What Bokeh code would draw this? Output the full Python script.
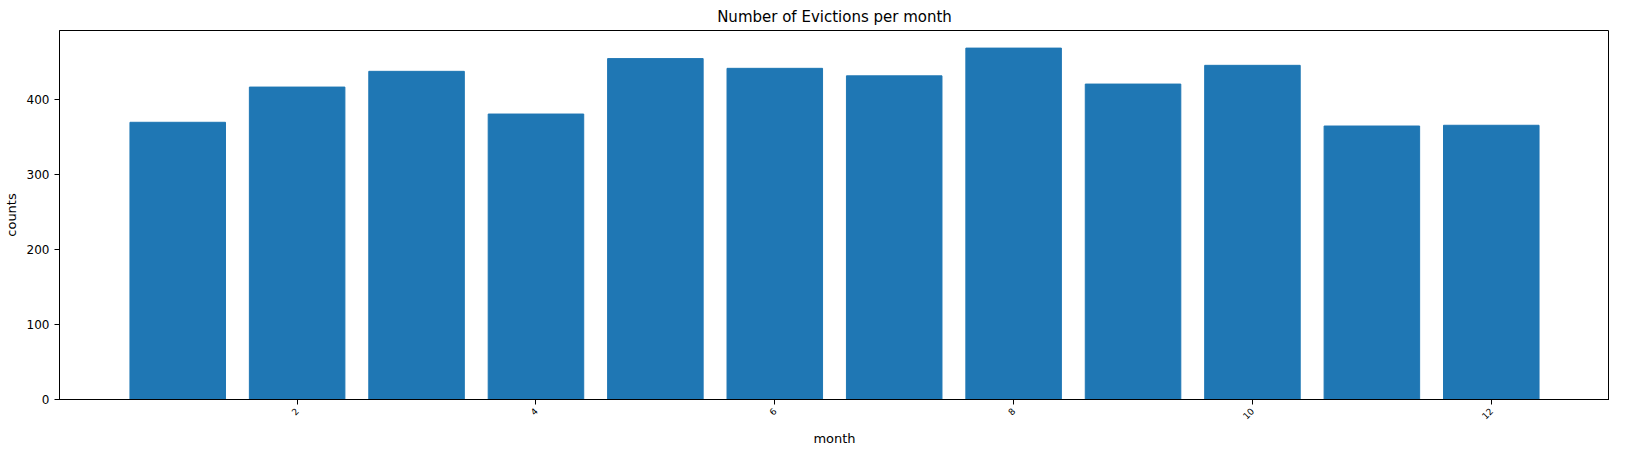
import math
from bokeh.plotting import figure
from bokeh.models import FixedTicker, Range1d
from bokeh.embed import file_html
from bokeh.resources import INLINE

months = [1, 2, 3, 4, 5, 6, 7, 8, 9, 10, 11, 12]
counts = [370, 417, 438, 381, 455, 442, 432, 469, 421, 446, 365, 366]
x_ticks = [2, 4, 6, 8, 10, 12]
y_ticks = [0, 100, 200, 300, 400]

p = figure(width=1609, height=448, output_backend="svg", toolbar_location=None,
           title="Number of Evictions per month",
           x_range=Range1d(0.01, 12.99), y_range=Range1d(0, 492.5),
           min_border_left=56, min_border_right=0, min_border_top=10, min_border_bottom=10)
p.vbar(x=months, top=counts, width=0.8, color="#1f77b4")

p.title.align = "center"
p.title.text_font = "DejaVu Sans"
p.title.text_font_size = "15px"
p.title.text_font_style = "normal"
p.title.text_color = "black"

p.xaxis.axis_label = "month"
p.yaxis.axis_label = "counts"
for ax in (p.xaxis, p.yaxis):
    ax.axis_label_text_font = "DejaVu Sans"
    ax.axis_label_text_font_size = "13px"
    ax.axis_label_text_font_style = "normal"
    ax.axis_label_text_color = "black"
    ax.major_label_text_font = "DejaVu Sans"
    ax.major_label_text_color = "black"
    ax.minor_tick_line_color = None
    ax.major_tick_in = 0
    ax.major_tick_out = 5
p.xaxis.ticker = FixedTicker(ticks=x_ticks)
p.xaxis.major_label_orientation = math.pi / 4
p.xaxis.major_label_text_font_size = "9px"
p.yaxis.ticker = FixedTicker(ticks=y_ticks)
p.yaxis.major_label_text_font_size = "12px"
p.xgrid.visible = False
p.ygrid.visible = False
p.outline_line_color = "black"

open("out.html", "w").write(file_html(p, INLINE))
